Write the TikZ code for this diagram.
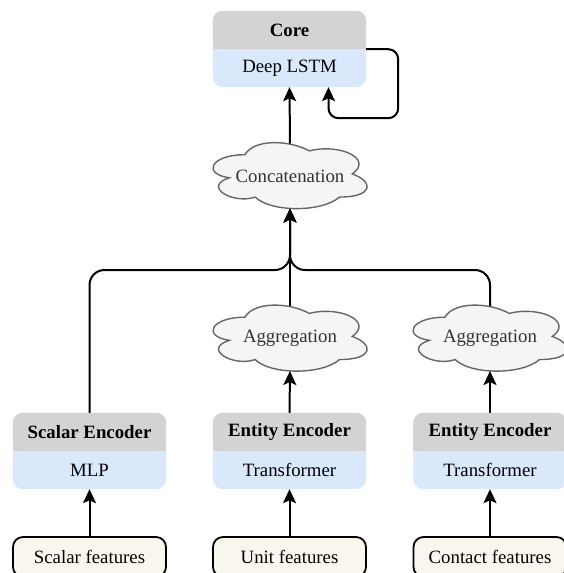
\documentclass[tikz,border=0pt]{standalone}
\usepackage{fontspec}
\setmainfont{Liberation Serif}
\usetikzlibrary{arrows.meta,calc,backgrounds}

\definecolor{hdrgray}{HTML}{D3D3D3}
\definecolor{bodyblue}{HTML}{DAE8FC}
\definecolor{featfill}{HTML}{F9F7ED}
\definecolor{cloudfill}{HTML}{F5F5F5}
\definecolor{cloudline}{HTML}{666666}
\definecolor{cloudtext}{HTML}{333333}

\tikzset{
  txt/.style={font=\fontsize{18.8pt}{22pt}\selectfont, inner sep=0pt},
  hdr/.style={txt, font=\fontsize{18.8pt}{22pt}\selectfont\bfseries,
              minimum width=153pt, minimum height=38pt},
  bdy/.style={txt, minimum width=153pt, minimum height=38pt},
  feat/.style={txt, draw, line width=1.8pt, fill=featfill, rounded corners=10pt,
               minimum width=153pt, minimum height=40pt},
  cloudnode/.style={txt, text=cloudtext, minimum width=154pt, minimum height=64.6pt},
  cloudshape/.style={draw=cloudline, fill=cloudfill, line width=1.4pt},
  arr/.style={line width=2pt, -{Stealth[length=14pt,width=13pt,inset=3pt]}},
}

% two-tone block: grey title band over a blue body
\newcommand\twotone[2]{%
  \fill[bodyblue, rounded corners=10pt] (#1.north west) rectangle (#2.south east);
  \fill[hdrgray, rounded corners=10pt] (#1.north west) rectangle (#1.south east);
  \fill[hdrgray] (#1.west) rectangle (#1.south east);
}

% cloud outline placed around a cloud node
\newcommand\mxcloud[1]{%
  \begin{scope}[shift={(#1.center)}, shift={(-88.15pt,40.54pt)}, x=172pt, y=-77pt]
    \path[cloudshape] (0.25,0.25)
      .. controls (0.05,0.25) and (0,0.5) .. (0.16,0.55)
      .. controls (0,0.66) and (0.18,0.9) .. (0.31,0.8)
      .. controls (0.4,1) and (0.7,1) .. (0.8,0.8)
      .. controls (1,0.8) and (1,0.6) .. (0.875,0.5)
      .. controls (1,0.3) and (0.8,0.1) .. (0.625,0.2)
      .. controls (0.5,0.05) and (0.3,0.05) .. (0.25,0.25) -- cycle;
  \end{scope}}

\begin{document}
\begin{tikzpicture}[x=1pt, y=-1pt]
  \useasboundingbox (0,0) rectangle (564,573);

  % core
  \node[hdr] (core-h) at (289.5,30) {Core};
  \node[bdy] (core)   at (289.5,68) {Deep LSTM};

  % clouds
  \node[cloudnode] (concat) at (290,176)   {Concatenation};
  \node[cloudnode] (agg1)   at (290,338.5) {Aggregation};
  \node[cloudnode] (agg2)   at (490,338.5) {Aggregation};

  % encoders
  \node[hdr] (scalar-h)  at (89.5,432)  {Scalar Encoder};
  \node[bdy] (scalar)    at (89.5,470)  {MLP};
  \node[hdr] (entity1-h) at (289.5,432) {Entity Encoder};
  \node[bdy] (entity1)   at (289.5,470) {Transformer};
  \node[hdr] (entity2-h) at (490,432)   {Entity Encoder};
  \node[bdy] (entity2)   at (490,470)   {Transformer};

  % inputs
  \node[feat] (scalarf) at (89.5,557)  {Scalar features};
  \node[feat] (unitf)   at (289.5,557) {Unit features};
  \node[feat] (contf)   at (490,557)   {Contact features};

  \begin{pgfonlayer}{background}
    \twotone{core-h}{core}
    \twotone{scalar-h}{scalar}
    \twotone{entity1-h}{entity1}
    \twotone{entity2-h}{entity2}
    \mxcloud{concat}
    \mxcloud{agg1}
    \mxcloud{agg2}
  \end{pgfonlayer}

  \coordinate (merge) at (290,270);

  % connectors
  \draw[arr] (concat.north) -- (core.south);
  \draw[arr, rounded corners=10pt] (core-h.south east) -- ++(32,0)
        |- ($(core.south)+(39,31)$) -- ($(core.south)+(39,0)$);
  \draw[arr, rounded corners=15pt] (scalar-h.north) |- (merge) -- (concat.south);
  \draw[arr, rounded corners=15pt] (agg2.north) |- (merge) -- (concat.south);
  \draw[arr] (agg1.north) -- (concat.south);

  \draw[arr] (entity1-h.north) -- (agg1.south);
  \draw[arr] (entity2-h.north) -- (agg2.south);

  \draw[arr] (scalarf.north) -- (scalar.south);
  \draw[arr] (unitf.north)   -- (entity1.south);
  \draw[arr] (contf.north)   -- (entity2.south);
\end{tikzpicture}
\end{document}
